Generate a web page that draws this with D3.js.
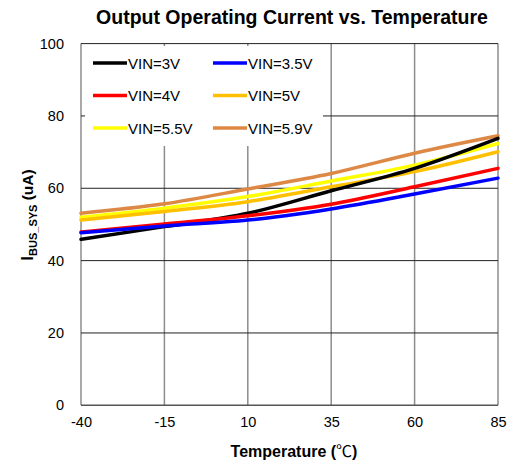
<!DOCTYPE html>
<html><head><meta charset="utf-8">
<script src="https://cdn.jsdelivr.net/npm/d3@7"></script>
<style>body{margin:0;background:#fff}svg{display:block;font-family:"Liberation Sans",Arial,sans-serif}</style>
</head><body><svg id="c" width="508" height="464"></svg>
<script>
const temps = [-40, -15, 10, 35, 60, 85];
const xTicks = [-40, -15, 10, 35, 60, 85];
const yTicks = [0, 20, 40, 60, 80, 100];
const seriesNames = ["VIN=3V", "VIN=3.5V", "VIN=4V", "VIN=5V", "VIN=5.5V", "VIN=5.9V"];
const vin3  = [45.9, 49.4, 53.1, 59.3, 65.5, 73.8];
const vin35 = [47.7, 49.6, 51.2, 54.3, 58.4, 62.8];
const vin4  = [47.9, 50.1, 52.4, 55.6, 60.4, 65.5];
const vin5  = [51.2, 53.6, 56.3, 60.4, 64.6, 70.1];
const vin55 = [52.0, 54.5, 57.7, 62.0, 66.4, 72.4];
const vin59 = [53.1, 55.7, 59.8, 64.1, 69.7, 74.5];
const colors = ["#000000", "#0000FF", "#FF0000", "#FFC000", "#FFFF00", "#DD8844"];
const seriesVals = [vin3, vin35, vin4, vin5, vin55, vin59];
const drawOrder = [5, 4, 3, 0, 2, 1];

const svg = d3.select("#c");
const L = 81, R = 498, T = 43.6, B = 405.3;
const x = d3.scaleLinear().domain([-40, 85]).range([L, R]);
const y = d3.scaleLinear().domain([0, 100]).range([B, T]);

svg.append("g").selectAll("line").data(xTicks).join("line")
  .attr("x1", d => x(d)).attr("x2", d => x(d)).attr("y1", T).attr("y2", B)
  .attr("stroke", "#8c8c8c").attr("stroke-width", 1.5);
svg.append("g").selectAll("line").data(yTicks.filter(d => d > 0)).join("line")
  .attr("x1", L).attr("x2", R).attr("y1", d => y(d)).attr("y2", d => y(d))
  .attr("stroke", "#222").attr("stroke-width", 1);
svg.append("line").attr("x1", L).attr("x2", R).attr("y1", B).attr("y2", B)
  .attr("stroke", "#555").attr("stroke-width", 1.5);

const fmt = d => String(d);
const xAxis = svg.append("g").attr("transform", `translate(0,${B})`)
  .call(d3.axisBottom(x).tickValues(xTicks).tickSize(0).tickPadding(11).tickFormat(fmt));
xAxis.select(".domain").remove();
xAxis.selectAll("text").attr("font-size", 14.5).attr("fill", "#000").attr("font-family", "Liberation Sans, Arial, sans-serif");
const yAxis = svg.append("g").attr("transform", `translate(${L},0)`)
  .call(d3.axisLeft(y).tickValues(yTicks).tickSize(0).tickPadding(17).tickFormat(fmt));
yAxis.select(".domain").remove();
yAxis.selectAll("text").attr("font-size", 14.5).attr("fill", "#000").attr("font-family", "Liberation Sans, Arial, sans-serif");

svg.append("rect").attr("x", 85).attr("y", 46).attr("width", 238).attr("height", 100).attr("fill", "#fff");

const line = d3.line().x((d, i) => x(temps[i])).y(d => y(d)).curve(d3.curveMonotoneX);
svg.append("g").selectAll("path").data(drawOrder).join("path")
  .attr("d", i => line(seriesVals[i])).attr("fill", "none")
  .attr("stroke", i => colors[i]).attr("stroke-width", 3.5).attr("stroke-linecap", "round");

const lg = svg.append("g");
seriesNames.forEach((n, i) => {
  const col = i % 2, row = Math.floor(i / 2);
  const lx = col === 0 ? 93 : 213, ly = 63 + row * 32.5;
  lg.append("line").attr("x1", lx).attr("x2", lx + 34).attr("y1", ly).attr("y2", ly)
    .attr("stroke", colors[i]).attr("stroke-width", 3.5);
  lg.append("text").attr("x", lx + 35).attr("y", ly + 5.5).attr("font-size", 15).text(n);
});

svg.append("text").attr("x", 292).attr("y", 24).attr("text-anchor", "middle")
  .attr("font-size", 19.5).attr("font-weight", "bold").text("Output Operating Current vs. Temperature");
const xl = svg.append("text").attr("x", 294).attr("y", 457).attr("text-anchor", "middle")
  .attr("font-size", 16).attr("font-weight", "bold");
xl.append("tspan").text("Temperature (");
xl.append("tspan").attr("font-weight", "normal").attr("font-family", "Noto Sans CJK SC").text("℃");
xl.append("tspan").text(")");
const yl = svg.append("text").attr("transform", "translate(33,215) rotate(-90)").attr("text-anchor", "middle")
  .attr("font-size", 15.5).attr("font-weight", "bold");
yl.append("tspan").attr("font-size", 17).text("I");
yl.append("tspan").attr("font-size", 11).attr("dy", 4).text("BUS_SYS");
yl.append("tspan").attr("dy", -4).text(" (uA)");
</script></body></html>
